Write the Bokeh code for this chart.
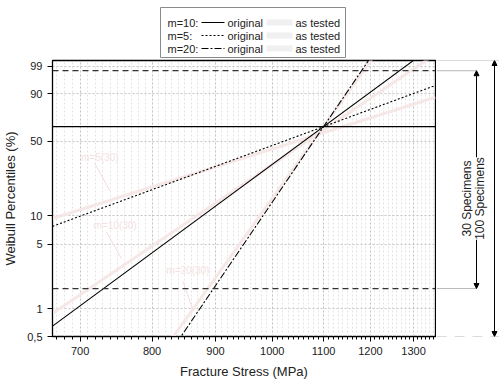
import numpy as np
from bokeh.plotting import figure
from bokeh.layouts import column, row
from bokeh.models import (Range1d, FixedTicker, PrintfTickFormatter, Label, Arrow,
                          NormalHead, Span)
from bokeh.embed import file_html
from bokeh.resources import INLINE
from bokeh.core.properties import value

# ---------------- data ----------------
x_ticks = [700, 800, 900, 1000, 1100, 1200, 1300]
x_minor = list(range(670, 1360, 10))
pct_ticks = [0.5, 1, 5, 10, 50, 90, 99]
pct_labels = ["0,5", "1", "5", "10", "50", "90", "99"]
stress_range = [665, 1354]
pct_range = [0.5, 99.5]
sigma0 = 1100
m_values = [10, 5, 20]
m_names = ["m=10:", "m=5:", "m=20:"]
tested_m = [9.2, 4.3, 19]
tested_sigma0 = [1110, 1140, 1100]
char_life_pct = 63.2
specimens_30_pct = [1.667, 98.333]
specimens_100_pct = [0.5, 99.5]
tag_texts = ["m=5(30)", "m=10(30)", "m=20(30)"]
tag_stress = [726, 747, 855]
tag_pct = [37.0, 8.0, 2.6]
ptr_stress = [(719, 740), (735, 756), (847, 862)]
ptr_pct = [(33.0, 17.8), (6.8, 3.5), (2.0, 1.03)]

FONT = "Liberation Sans"


def W(p):
    return float(np.log(-np.log(1.0 - p / 100.0)))


def weib(m, s0, s):
    return [m * float(np.log(v / s0)) for v in s]


dashes = ["solid", "2 2", "7 2 2 2"]

# ---------------- main figure ----------------
p = figure(width=436, height=322, x_axis_type="log",
           x_range=Range1d(stress_range[0], stress_range[1]),
           y_range=Range1d(W(pct_range[0]), W(pct_range[1])),
           output_backend="svg", toolbar_location=None,
           min_border_left=52, min_border_right=1, min_border_top=1, min_border_bottom=43)
p.background_fill_color = "white"
p.border_fill_color = "white"
p.outline_line_color = "black"
p.outline_line_width = 1.3

p.xaxis.ticker = FixedTicker(ticks=x_ticks, minor_ticks=x_minor)
p.xaxis.formatter = PrintfTickFormatter(format="%d")
yt = [W(v) for v in pct_ticks]
p.yaxis.ticker = FixedTicker(ticks=yt, minor_ticks=[])
p.yaxis.major_label_overrides = {t: l for t, l in zip(yt, pct_labels)}

for ax in (p.xaxis, p.yaxis):
    ax.axis_line_color = "black"
    ax.major_tick_line_color = "black"
    ax.minor_tick_line_color = "black"
    ax.major_tick_out = 5
    ax.major_tick_in = 0
    ax.minor_tick_out = 3
    ax.minor_tick_in = 0
    ax.major_label_text_font = FONT
    ax.major_label_text_font_size = "11px"
    ax.major_label_text_color = "#222222"
    ax.axis_label_text_font = FONT
    ax.axis_label_text_font_size = "13px"
    ax.axis_label_text_font_style = "normal"
    ax.axis_label_text_color = "#222222"
p.yaxis.minor_tick_line_color = None
p.xaxis.axis_label = "Fracture Stress (MPa)"
p.yaxis.axis_label = "Weibull Percentiles (%)"
p.xaxis.axis_label_standoff = 6
p.yaxis.axis_label_standoff = 6

p.xgrid.grid_line_color = "#c4c4c4"
p.xgrid.grid_line_dash = "2 2"
p.xgrid.minor_grid_line_color = "#e4e4e4"
p.xgrid.minor_grid_line_dash = "2 2"
p.ygrid.grid_line_color = "#c4c4c4"
p.ygrid.grid_line_dash = "2 2"

# faint "as tested" lines
for m, s0 in zip(tested_m, tested_sigma0):
    p.line(stress_range, weib(m, s0, stress_range), line_color="#f6e6e6",
           line_width=3, line_alpha=0.9)

# faint tags with pointers
for t, sx, py, (a, b), (c, d) in zip(tag_texts, tag_stress, tag_pct, ptr_stress, ptr_pct):
    p.text(x=[sx], y=[W(py)], text=[t], text_color="#f4e2e2", text_font=value(FONT),
           text_font_size="10px", text_align="center", text_baseline="middle")
    p.line([a, b], [W(c), W(d)], line_color="#f2dede", line_width=1)

# reference spans
p.add_layout(Span(location=W(char_life_pct), dimension="width", line_color="black",
                  line_width=1.3))
for v in specimens_30_pct:
    p.add_layout(Span(location=W(v), dimension="width", line_color="#333333",
                      line_width=1.3, line_dash="6 4"))

# original Weibull lines
for m, d in zip(m_values, dashes):
    p.line(stress_range, weib(m, sigma0, stress_range), line_color="black",
           line_width=1.1, line_dash=d)

# ---------------- right annotation strip ----------------
r = figure(width=63, height=322, x_range=Range1d(0, 63), y_range=p.y_range,
           x_axis_location=None, y_axis_location=None,
           output_backend="svg", toolbar_location=None,
           min_border_left=0, min_border_right=0, min_border_top=1, min_border_bottom=43)
r.outline_line_color = None
r.grid.visible = False

r.line([0, 63], [W(specimens_100_pct[1])] * 2, line_color="#b8b8b8", line_width=1)
r.line([0, 63], [W(specimens_100_pct[0])] * 2, line_color="#b8b8b8", line_width=1,
       line_dash="10 8")
for v in specimens_30_pct:
    r.line([0, 40], [W(v)] * 2, line_color="#b8b8b8", line_width=1)

head = dict(size=5, fill_color="black", line_color="black")
r.add_layout(Arrow(start=NormalHead(**head), end=NormalHead(**head),
                   x_start=40, y_start=W(specimens_30_pct[1]),
                   x_end=40, y_end=W(specimens_30_pct[0]),
                   line_color="black", line_width=1))
r.add_layout(Arrow(start=NormalHead(**head), end=NormalHead(**head),
                   x_start=58, y_start=W(specimens_100_pct[1]),
                   x_end=58, y_end=W(specimens_100_pct[0]),
                   line_color="black", line_width=1))
mid = (W(pct_range[0]) + W(pct_range[1])) / 2
r.add_layout(Label(x=30, y=mid, text="30 Specimens", angle=90, angle_units="deg",
                   text_align="center", text_baseline="middle", text_font=FONT,
                   text_font_size="12px", text_color="#222222"))
r.add_layout(Label(x=43, y=mid, text="100 Specimens", angle=90, angle_units="deg",
                   text_align="center", text_baseline="middle", text_font=FONT,
                   text_font_size="12px", text_color="#222222",
                   background_fill_color="white"))

# ---------------- legend strip ----------------
lg = figure(width=499, height=59, x_range=Range1d(0, 499), y_range=Range1d(59, 0),
            x_axis_location=None, y_axis_location=None,
            output_backend="svg", toolbar_location=None, min_border=0)
lg.outline_line_color = None
lg.grid.visible = False
lg.quad(left=[160], right=[345], top=[7], bottom=[57], fill_color="white",
        line_color="#8a8a8a", line_width=1)
rows_y = [22, 35, 48]
lg.text(x=[167] * 3, y=rows_y, text=m_names, text_font=value(FONT),
        text_font_size="11px", text_baseline="middle", text_color="#222222")
for yy, d in zip(rows_y, dashes):
    lg.line([201, 224], [yy, yy], line_color="black", line_width=1.2, line_dash=d)
    lg.line([266, 292], [yy, yy], line_color="#f0f0f0", line_width=6)
lg.text(x=[227] * 3, y=rows_y, text=["original"] * 3, text_font=value(FONT),
        text_font_size="11px", text_baseline="middle", text_color="#222222")
lg.text(x=[295] * 3, y=rows_y, text=["as tested"] * 3, text_font=value(FONT),
        text_font_size="11px", text_baseline="middle", text_color="#222222")

layout = column(lg, row(p, r))
open("out.html", "w").write(file_html(layout, INLINE))
